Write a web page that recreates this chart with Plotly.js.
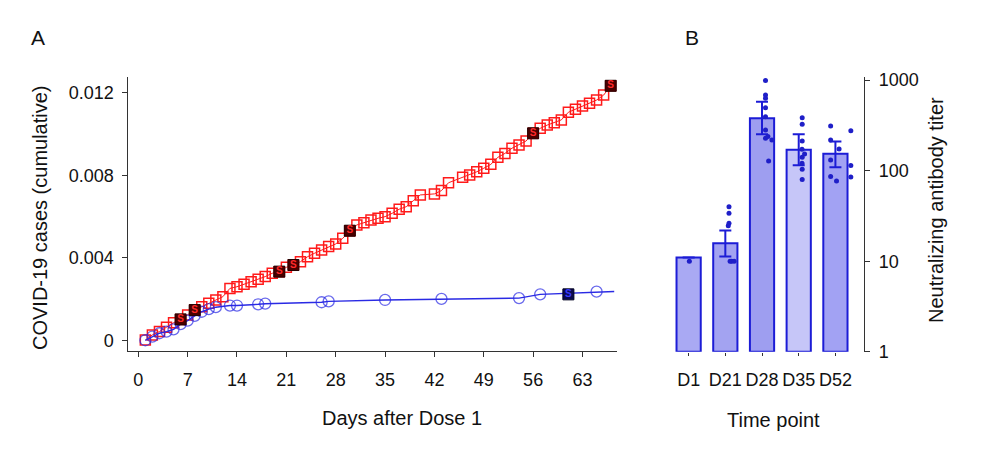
<!DOCTYPE html>
<html>
<head>
<meta charset="utf-8">
<script src="https://cdn.plot.ly/plotly-3.0.1.min.js"></script>
<style>
html,body{margin:0;padding:0;background:#fff;}
#chart{width:986px;height:460px;}
</style>
</head>
<body>
<div id="chart"></div>
<script>
// ---- Panel A data: cumulative COVID-19 cases ----
const redDays = [1,2,3,4,5,6,7,8,9,10,11,12,13,14,15,16,17,18,19,20,21,22,23,24,25,26,27,28,29,30,31,32,33,34,35,36,37,38,39,40,42,43,44,46,47,48,49,50,51,52,53,54,55,56,57,58,59,60,61,62,63,64,65,66,67];
const redCases = [0.00003,0.00028,0.00044,0.00065,0.00087,0.00103,0.00124,0.00148,0.00164,0.00181,0.00197,0.00213,0.00253,0.00261,0.00273,0.00285,0.00297,0.0031,0.00326,0.00334,0.00355,0.00366,0.00382,0.00406,0.00423,0.00439,0.00455,0.00468,0.00495,0.00532,0.0056,0.00571,0.00584,0.00592,0.006,0.00616,0.00636,0.00648,0.00677,0.00705,0.0071,0.00726,0.00764,0.0079,0.00801,0.00817,0.00834,0.00853,0.00887,0.00906,0.00931,0.00947,0.00966,0.01003,0.01027,0.01043,0.01054,0.01068,0.01105,0.01119,0.01135,0.01148,0.01164,0.01188,0.01233];
const redSevereDays = [6,8,20,22,30,56,67];
const redSevereCases = [0.00103,0.00148,0.00334,0.00366,0.00532,0.01003,0.01233];

const blueDays = [1,2,3,4,5,6,7,8,9,10,11,13,14,17,18,26,27,35,43,54,57,65,67.5];
const blueCases = [0.00002,0.0002,0.00036,0.00044,0.00055,0.0008,0.00097,0.0012,0.0014,0.00153,0.00162,0.0017,0.0017,0.00176,0.00179,0.00186,0.0019,0.00197,0.00202,0.00206,0.00224,0.00237,0.00238];
const blueMarkerShown = [1,1,1,1,1,1,1,1,1,1,1,1,1,1,1,1,1,1,1,1,1,1,0];
const blueSevereDays = [61];
const blueSevereCases = [0.00224];

const dayTicks = [0,7,14,21,28,35,42,49,56,63];
const caseTicks = [0,0.004,0.008,0.012];
const caseTickText = ['0','0.004','0.008','0.012'];

// ---- Panel B data: neutralizing antibody titers ----
const timePoints = ['D1','D21','D28','D35','D52'];
const gmtTiter = [10,14.8,379,169,153];
const ciUpper = [10,20.9,578,252,209];
const ciLower = [10,10.3,252,113.6,108];
const barFills = ['#a9a9f3','#a3a3f1','#9e9ef0','#c6c6f8','#a2a2f3'];
const titerDots = [
  [10],
  [40,33.8,26.2,24.7,10,10,10],
  [990,686,631,497,395,282,228,238,218,128],
  [385,325,213,172,153,141,121,104,80],
  [312,218,131,86,77,174,277,114,85]
];
const titerJitter = [
  [0.02],
  [0.1,0.1,0.1,0.08,0.13,0.17,0.24],
  [0.095,0.095,0.095,0.095,0.095,0.095,0.095,0.16,0.27,0.18],
  [0.095,0.095,0.095,0.09,0.16,0.095,0.09,0.095,0.095],
  [-0.13,-0.13,-0.13,-0.13,0.03,0.1,0.42,0.42,0.42]
];
const titerTicks = [1,10,100,1000];

const RED = '#ff1a1a', BLUE = '#2a2ae4', EDGE = '#1c1cd6';
const FONT = 'Liberation Sans, Arial, Helvetica, sans-serif';

const traces = [
  {x: redDays, y: redCases, type:'scatter', mode:'lines+markers', xaxis:'x', yaxis:'y',
   line:{color:RED, width:1}, marker:{symbol:'square-open', size:10, color:RED, line:{width:1.5, color:RED}}, hoverinfo:'skip'},
  {x: blueDays, y: blueCases, type:'scatter', mode:'lines+markers', xaxis:'x', yaxis:'y',
   line:{color:BLUE, width:1.4}, marker:{symbol:'circle-open', size:blueMarkerShown.map(v=>v?11:0), color:BLUE, line:{width:1.3, color:BLUE}}, hoverinfo:'skip'},
  {x: redSevereDays, y: redSevereCases, type:'scatter', mode:'markers+text', xaxis:'x', yaxis:'y',
   text: redSevereDays.map(()=> '<b>S</b>'), textposition:'middle center', textfont:{family:FONT, size:10, color:'#ff2a2a'},
   marker:{symbol:'square', size:11, color:'#4a0000', line:{width:1, color:'#200000'}}, hoverinfo:'skip'},
  {x: blueSevereDays, y: blueSevereCases, type:'scatter', mode:'markers+text', xaxis:'x', yaxis:'y',
   text: blueSevereDays.map(()=> '<b>S</b>'), textposition:'middle center', textfont:{family:FONT, size:10, color:'#3a3aff'},
   marker:{symbol:'square', size:11, color:'#0a0a50', line:{width:1, color:'#000020'}}, hoverinfo:'skip'},
  {x: timePoints.map((_,i)=>i), y: gmtTiter, type:'bar', xaxis:'x2', yaxis:'y2', width:0.66,
   marker:{color:barFills, line:{color:EDGE, width:2}}, base: 1,
   error_y:{type:'data', symmetric:false,
     array: ciUpper.map((u,i)=>u-gmtTiter[i]), arrayminus: ciLower.map((l,i)=>gmtTiter[i]-l),
     color:EDGE, thickness:2, width:6, visible:true}, hoverinfo:'skip'}
];
titerDots.forEach((vals, g) => {
  traces.push({x: vals.map((_,k)=> g + titerJitter[g][k]), y: vals, type:'scatter', mode:'markers', xaxis:'x2', yaxis:'y2',
    marker:{color:'#1f1fc8', size:5}, hoverinfo:'skip'});
});

const tickFont = {family:FONT, size:18, color:'#111'};
const titleFont = {family:FONT, size:20, color:'#111'};
function ann(text, px, py, extra){
  return Object.assign({text:text, x:px/986, y:1-py/460, xref:'paper', yref:'paper', xanchor:'center', yanchor:'middle', showarrow:false, font:titleFont}, extra||{});
}
const layout = {
  width:986, height:460, margin:{l:0,r:0,t:0,b:0}, paper_bgcolor:'#fff', plot_bgcolor:'rgba(0,0,0,0)',
  showlegend:false, font:{family:FONT, color:'#111'},
  xaxis:{domain:[0.1301,0.6258], range:[-1.42,67.9], tickvals:dayTicks, ticktext:dayTicks.map(String),
    showline:true, linecolor:'#333', linewidth:1, ticks:'outside', ticklen:5, tickcolor:'#333',
    showgrid:false, zeroline:false, tickfont:tickFont, ticklabelstandoff:7, anchor:'y'},
  yaxis:{domain:[0.237,0.8326], range:[-0.000498,0.012755], tickvals:caseTicks, ticktext:caseTickText,
    showline:true, linecolor:'#333', linewidth:1, ticks:'outside', ticklen:5, tickcolor:'#333',
    showgrid:false, zeroline:false, tickfont:tickFont, ticklabelstandoff:5, anchor:'x'},
  xaxis2:{domain:[0.6798,0.8763], range:[-0.5,4.78], tickvals:timePoints.map((_,i)=>i), ticktext:timePoints,
    showline:false, ticks:'outside', ticklen:3, tickcolor:'#333', showgrid:false, zeroline:false,
    tickfont:tickFont, ticklabelstandoff:9, anchor:'y2'},
  yaxis2:{domain:[0.2354,0.8326], type:'log', range:[0,3.035], side:'right', tickvals:titerTicks, ticktext:titerTicks.map(String),
    showline:true, linecolor:'#333', linewidth:1, ticks:'outside', ticklen:5, tickcolor:'#333',
    showgrid:false, zeroline:false, tickfont:tickFont, ticklabelstandoff:5, anchor:'x2'},
  annotations:[
    ann('A', 38, 38, {font:{family:FONT, size:21, color:'#111'}}),
    ann('B', 692, 38, {font:{family:FONT, size:21, color:'#111'}}),
    ann('COVID-19 cases (cumulative)', 40, 218, {textangle:-90}),
    ann('Days after Dose 1', 402, 418),
    ann('Time point', 773, 420),
    ann('Neutralizing antibody titer', 936, 210, {textangle:-90})
  ]
};
Plotly.newPlot('chart', traces, layout, {staticPlot:true, displayModeBar:false});
</script>
</body>
</html>
